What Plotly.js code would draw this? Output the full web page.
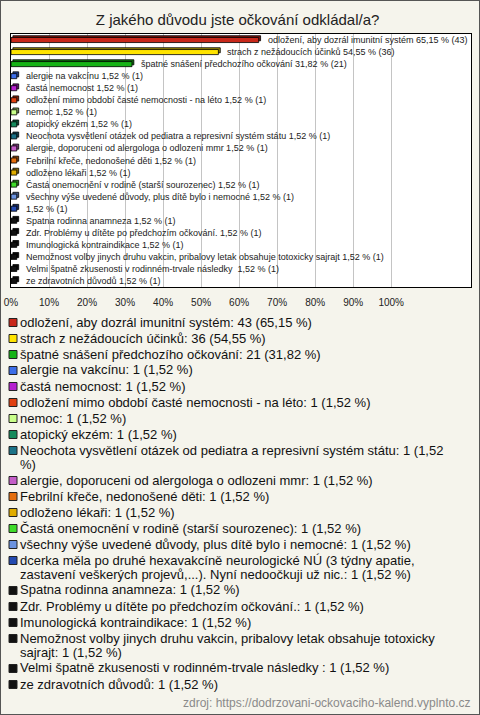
<!DOCTYPE html>
<html><head><meta charset="utf-8">
<script src="https://cdn.plot.ly/plotly-3.0.1.min.js"></script>
<style>
html,body{margin:0;padding:0;background:#f5f4ec;}
#wrap{position:relative;width:480px;height:715px;}
#chart{width:480px;height:715px;}
#frame{position:absolute;left:0;top:0;width:480px;height:715px;box-sizing:border-box;border:1px solid #555;pointer-events:none;}
#meas{position:absolute;left:-2000px;top:0;white-space:pre;font:13px "Liberation Sans", Arial, sans-serif;visibility:hidden;}
</style></head><body>
<div id="wrap"><div id="chart"></div><div id="frame"></div></div>
<span id="meas"></span>
<script>
// ---- data ----
const categories = [
  "odložení, aby dozrál imunitní systém",
  "strach z nežádoucích účinků",
  "špatné snášení předchozího očkování",
  "alergie na vakcínu",
  "častá nemocnost",
  "odložení mimo období časté nemocnosti - na léto",
  "nemoc",
  "atopický ekzém",
  "Neochota vysvětlení otázek od pediatra a represivní systém státu",
  "alergie, doporuceni od alergologa o odlozeni mmr",
  "Febrilní křeče, nedonošené děti",
  "odloženo lékaři",
  "Častá onemocnění v rodině (starší sourozenec)",
  "všechny výše uvedené důvody, plus dítě bylo i nemocné",
  "dcerka měla po druhé hexavakcíně neurologické NÚ (3 týdny apatie, zastavení veškerých projevů,...). Nyní nedoočkuji už nic.",
  "Spatna rodinna anamneza",
  "Zdr. Problémy u dítěte po předchozím očkování.",
  "Imunologická kontraindikace",
  "Nemožnost volby jinych druhu vakcin, pribalovy letak obsahuje totoxicky sajrajt",
  "Velmi špatně zkusenosti v rodinném-trvale následky ",
  "ze zdravotních důvodů"
];
const counts = [43,36,21,1,1,1,1,1,1,1,1,1,1,1,1,1,1,1,1,1,1];
const percents = [65.15,54.55,31.82,1.52,1.52,1.52,1.52,1.52,1.52,1.52,1.52,1.52,1.52,1.52,1.52,1.52,1.52,1.52,1.52,1.52,1.52];
const colors = [
  "#c8281a","#ffe400","#16b316","#3d6ee8","#b620d0","#e04010","#c9ff8a",
  "#138a5c","#1b7287","#c45ec8","#e46e0e","#e0ad00","#3fdc2a","#6b93e0",
  "#244ab0","#111111","#111111","#111111","#111111","#111111","#111111"
];
const hideNameOnBar = [14];
const tickVals = [0,10,20,30,40,50,60,70,80,90,100];
const tickText = tickVals.map(v => v + '%');

// ---- helpers ----
const FONT = '"Liberation Sans", Arial, sans-serif';
const L = 11, T = 34, PW = 460, PH = 253;
const px2x = px => (px - L) / PW;
const px2y = py => (T + PH - py) / PH;
const fmt = v => v.toFixed(2).replace('.', ',');
function darker(hex, f) {
  const n = parseInt(hex.slice(1), 16);
  const r = Math.round(((n >> 16) & 255) * f), g = Math.round(((n >> 8) & 255) * f), b = Math.round((n & 255) * f);
  return 'rgb(' + r + ',' + g + ',' + b + ')';
}
const meas = document.getElementById('meas');
function textW(s) { meas.textContent = s; return meas.getBoundingClientRect().width; }
function wrap(text, maxW) {
  const words = text.split(' ');
  const lines = [];
  let cur = words[0];
  for (let i = 1; i < words.length; i++) {
    const test = cur + ' ' + words[i];
    if (textW(test) > maxW) { lines.push(cur); cur = words[i]; }
    else cur = test;
  }
  lines.push(cur);
  return lines;
}

// ---- traces ----
const back = {
  type: 'bar', orientation: 'h', y: categories, x: percents, base: 0.5,
  width: 0.42, offset: -0.36,
  marker: { color: colors.map(c => darker(c, 0.6)), line: { color: '#000', width: 0.8 } },
  hoverinfo: 'skip', showlegend: false
};
const front = {
  type: 'bar', orientation: 'h', y: categories, x: percents,
  width: 0.42, offset: -0.21,
  marker: { color: colors, line: { color: '#000', width: 0.8 } },
  hoverinfo: 'skip', showlegend: false
};

// ---- annotations ----
const annotations = [];
categories.forEach((c, i) => {
  const name = hideNameOnBar.includes(i) ? '' : c + ' ';
  annotations.push({
    xref: 'x', yref: 'y', x: percents[i], y: c, xanchor: 'left', yanchor: 'middle',
    xshift: 8, yshift: 0, text: name + fmt(percents[i]) + ' % (' + counts[i] + ')',
    showarrow: false, borderpad: 0, font: { family: FONT, size: 9, color: '#222' }
  });
});
const shapes = [];
let yy = 322;
categories.forEach((c, i) => {
  const label = c + ': ' + counts[i] + ' (' + fmt(percents[i]) + ' %)';
  const lines = wrap(label, 442);
  shapes.push({
    type: 'rect', xref: 'paper', yref: 'paper',
    x0: px2x(9), x1: px2x(17), y0: px2y(yy + 4.5), y1: px2y(yy - 3.5),
    fillcolor: colors[i], line: { color: '#222', width: 1 }
  });
  lines.forEach((ln, k) => {
    annotations.push({
      xref: 'paper', yref: 'paper', x: px2x(19), y: px2y(yy + k * 14),
      xanchor: 'left', yanchor: 'middle', text: ln, showarrow: false, borderpad: 0,
      font: { family: FONT, size: 13, color: '#111' }
    });
  });
  yy += 16 + (lines.length - 1) * 14;
});
annotations.push({
  xref: 'paper', yref: 'paper', x: px2x(471), y: px2y(703), xanchor: 'right', yanchor: 'middle',
  text: 'zdroj: https://dodrzovani-ockovaciho-kalend.vyplnto.cz', showarrow: false, borderpad: 0,
  font: { family: FONT, size: 12, color: '#8a8a8a' }
});

const layout = {
  width: 480, height: 715,
  margin: { l: L, r: 480 - L - PW, t: T, b: 715 - T - PH, pad: 0 },
  paper_bgcolor: '#f5f4ec', plot_bgcolor: '#ffffff',
  barmode: 'overlay', showlegend: false,
  title: {
    text: 'Z jakého důvodu jste očkování odkládal/a?',
    x: 0.495, xanchor: 'center', y: 1 - 20 / 715, yanchor: 'middle',
    font: { family: FONT, size: 15, color: '#222' }
  },
  xaxis: {
    range: [0, 121], tickmode: 'array', tickvals: tickVals, ticktext: tickText,
    showgrid: true, gridcolor: '#c4c4c4', gridwidth: 1, zeroline: false,
    showline: true, linecolor: '#000', linewidth: 1, mirror: true,
    ticks: '', ticklabelstandoff: 6,
    tickfont: { family: FONT, size: 10, color: '#222' }, fixedrange: true
  },
  yaxis: {
    type: 'category', categoryorder: 'array', categoryarray: categories,
    range: [categories.length - 0.5, -0.5], showticklabels: false,
    showgrid: false, zeroline: false, showline: true, linecolor: '#000', linewidth: 1, mirror: true,
    ticks: '', fixedrange: true
  },
  annotations: annotations, shapes: shapes
};
Plotly.newPlot('chart', [back, front], layout, { displayModeBar: false, staticPlot: true });
</script>
</body></html>
